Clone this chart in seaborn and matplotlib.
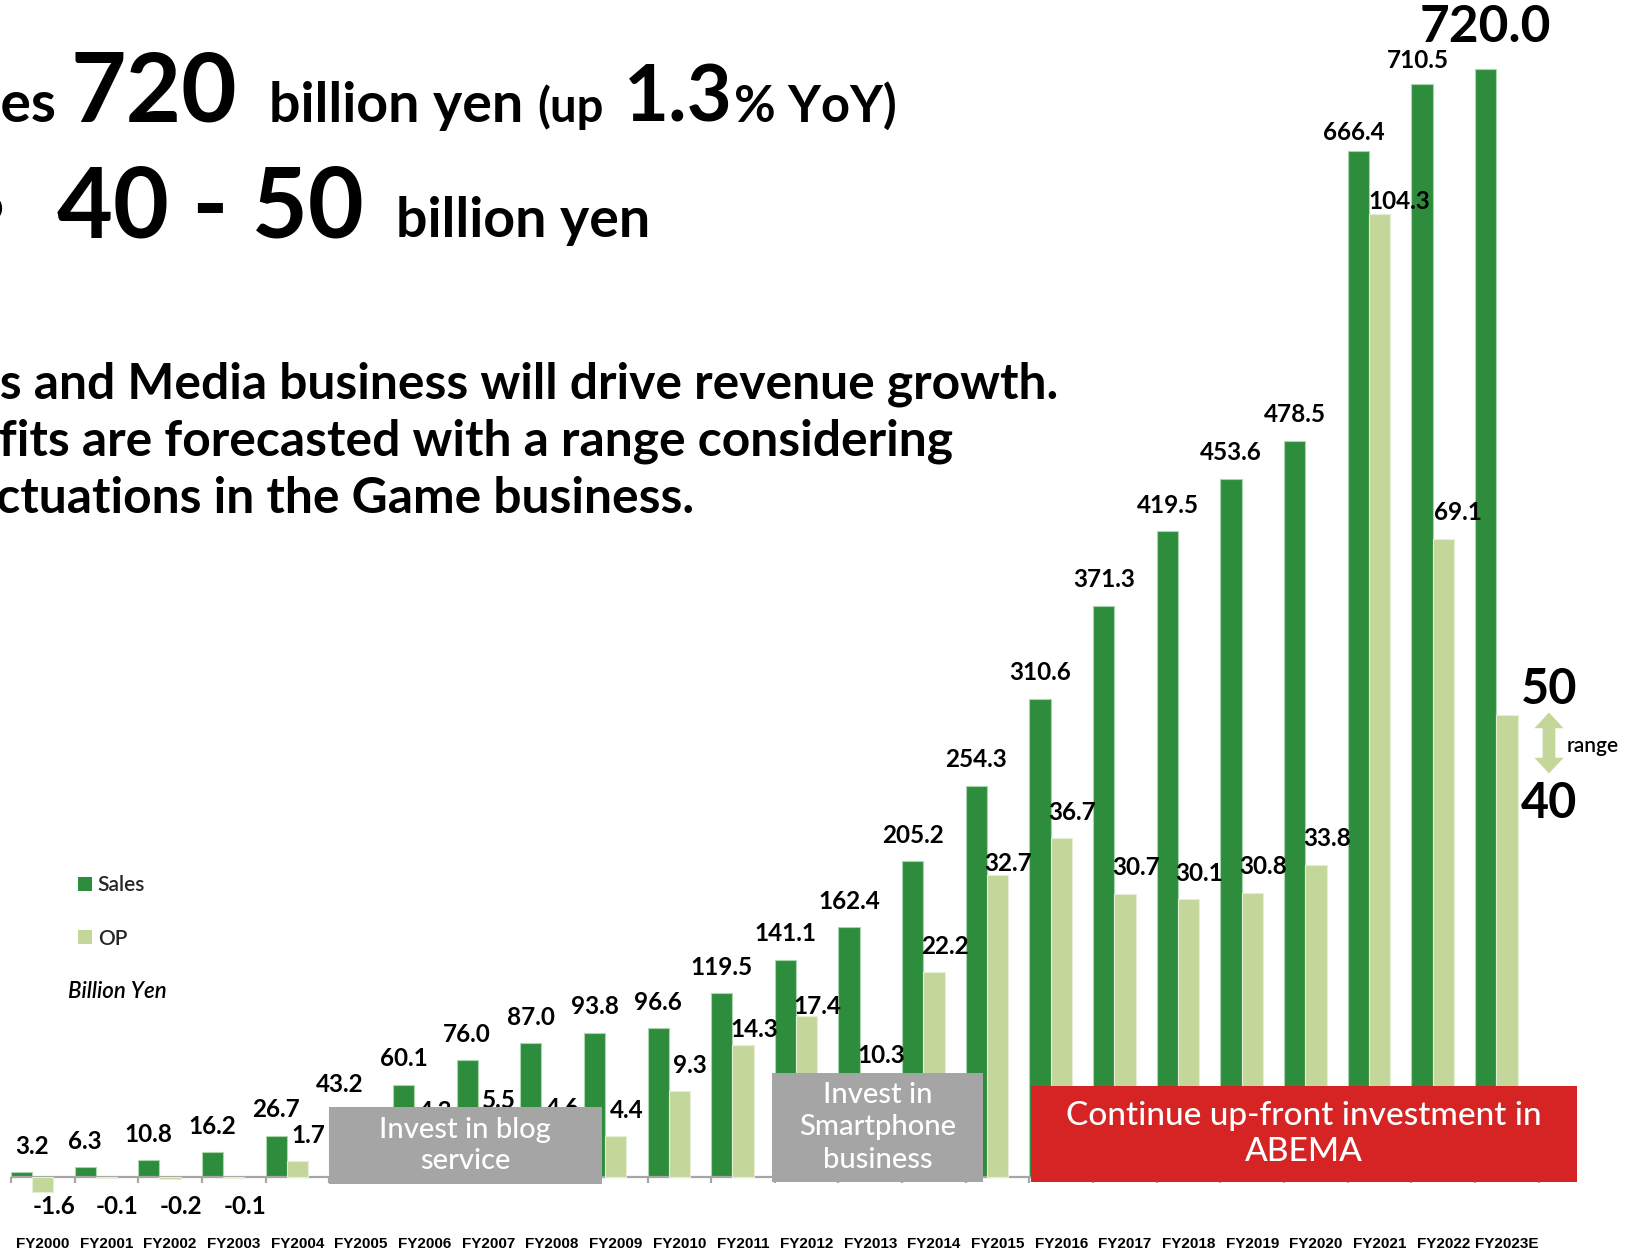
import numpy as np
import pandas as pd
import matplotlib
matplotlib.use("Agg")
import matplotlib.pyplot as plt
import seaborn as sns
from matplotlib.patches import Rectangle, Patch, FancyArrow

# ---------------- data (billion yen) ----------------
years = ["FY2000", "FY2001", "FY2002", "FY2003", "FY2004", "FY2005", "FY2006",
         "FY2007", "FY2008", "FY2009", "FY2010", "FY2011", "FY2012", "FY2013",
         "FY2014", "FY2015", "FY2016", "FY2017", "FY2018", "FY2019", "FY2020",
         "FY2021", "FY2022", "FY2023E"]
sales = [3.2, 6.3, 10.8, 16.2, 26.7, 43.2, 60.1, 76.0, 87.0, 93.8, 96.6, 119.5,
         141.1, 162.4, 205.2, 254.3, 310.6, 371.3, 419.5, 453.6, 478.5, 666.4,
         710.5, 720.0]
op = [-1.6, -0.1, -0.2, -0.1, 1.7, 3.9, 4.3, 5.5, 4.6, 4.4, 9.3, 14.3, 17.4,
      10.3, 22.2, 32.7, 36.7, 30.7, 30.1, 30.8, 33.8, 104.3, 69.1, 50.0]
op_forecast_range = (40, 50)

GREEN = "#2e8c3d"
LIGHT = "#c4d79b"
GREY_BOX = "#a5a5a5"
RED_BOX = "#d62323"
AXIS_GREY = "#a6a6a6"

W, H = 1633, 1253
DPI = 100

sns.set_theme(style="white")
plt.rcParams["font.family"] = ["Lato", "DejaVu Sans"]

fig = plt.figure(figsize=(W / DPI, H / DPI), dpi=DPI)
fig.patch.set_facecolor("white")


def fx(x):
    return x / W


def fy(y):
    return 1 - y / H


# axes fill the canvas; sales scale on the left, OP scale (x6) on the twin
base_px = 1177.0
sales_px = 1.539
ax_bottom_px = 1235.0
ax = fig.add_axes([0, fy(ax_bottom_px), 1, ax_bottom_px / H])
ax.set_facecolor("none")
s_lo = -(ax_bottom_px - base_px) / sales_px
s_hi = base_px / sales_px
ax2 = ax.twinx()
ratio = 6.0

df = pd.DataFrame({"year": years, "sales": sales, "op": op})
df["pos"] = np.arange(len(df))
df["sales_pos"] = df["pos"] - 1 / 3
df["op_pos"] = df["pos"].astype(float)

sns.barplot(data=df, x="sales_pos", y="sales", native_scale=True, orient="x",
            width=1 / 3, color=GREEN, saturation=1, errorbar=None,
            edgecolor="#a9d6ae", linewidth=0.8, ax=ax)
sns.barplot(data=df, x="op_pos", y="op", native_scale=True, orient="x",
            width=1 / 3, color=LIGHT, saturation=1, errorbar=None,
            edgecolor="#e6eed4", linewidth=0.8, ax=ax2)

n = len(years)
for a in (ax, ax2):
    a.set_xlim(-0.671, 24.98)
    a.set_xlabel("")
    a.set_ylabel("")
    a.set_yticks([])
    for sp in a.spines.values():
        sp.set_visible(False)
    a.grid(False)
ax.set_ylim(s_lo, s_hi)
ax2.set_ylim(s_lo / ratio, s_hi / ratio)

# category axis: baseline with ticks on the category boundaries
ax.plot([-0.5, n - 0.5], [0, 0], color=AXIS_GREY, lw=1.6, zorder=1,
        solid_capstyle="butt")
tick_len = 6 / sales_px
ax.vlines(np.arange(n + 1) - 0.5, -tick_len, 0, color=AXIS_GREY, lw=1.6, zorder=1)

ax.set_xticks(np.arange(n))
ax.set_xticklabels(years, fontfamily=["Liberation Sans", "DejaVu Sans"],
                   fontweight="bold", fontsize=11, color="black")
ax.tick_params(axis="x", length=0, pad=1.5)
ax2.tick_params(axis="x", length=0, labelbottom=False)

PT = 72 / DPI  # points per pixel
LABEL = dict(fontsize=17.5, fontweight="bold", color="black")

# sales value labels
sales_dx = {0: 0.16, 21: -0.07, 22: -0.06}
sales_dy = {21: 19, 22: 23}
for i, v in enumerate(sales):
    x = i - 1 / 3 + sales_dx.get(i, 0)
    if i == n - 1:
        ax.annotate(f"{v:.1f}", xy=(x, v), xytext=(0, 41 * PT),
                    textcoords="offset points", ha="center", va="center",
                    fontsize=37, fontweight="bold", color="black")
    else:
        ax.annotate(f"{v:.1f}", xy=(x, v), xytext=(0, sales_dy.get(i, 26) * PT),
                    textcoords="offset points", ha="center", va="center", **LABEL)

# OP value labels
op_dx = {21: 0.31, 22: 0.23}
op_dy = {21: 12.5, 15: 11.5, 12: 9.4, 11: 15.6}
for i, v in enumerate(op):
    if i in (5, n - 1):
        continue
    x = i + op_dx.get(i, 0.17)
    if v < 0:
        ax2.annotate(f"{v:.1f}", xy=(x, 0), xytext=(0, -29 * PT),
                     textcoords="offset points", ha="center", va="center", **LABEL)
    else:
        ax2.annotate(f"{v:.1f}", xy=(x, v), xytext=(0, op_dy.get(i, 26) * PT),
                     textcoords="offset points", ha="center", va="center", **LABEL)

# forecast range for FY2023E operating profit
lo, hi = op_forecast_range
rx = n - 1 + 0.66
ax2.annotate(f"{hi}", xy=(rx, hi), xytext=(0, 26 * PT), textcoords="offset points",
             ha="center", va="center", fontsize=35, fontweight="bold", color="black")
ax2.annotate(f"{lo}", xy=(rx, lo), xytext=(0, 4.6 * PT), textcoords="offset points",
             ha="center", va="center", fontsize=35, fontweight="bold", color="black")
mid = 47.0
half = 3.3
for d in (half, -half):
    ax2.add_patch(FancyArrow(rx, mid, 0, d, width=0.2, head_width=0.46,
                             head_length=1.7, length_includes_head=True,
                             color=LIGHT, lw=0))
ax2.text(n - 1 + 1.35, mid - 0.35, "range", ha="center", va="center",
         fontsize=15, fontweight="semibold", color="black")

# legend
handles = [Patch(facecolor=GREEN, edgecolor="none"),
           Patch(facecolor=LIGHT, edgecolor="none")]
leg = ax.legend(handles, ["Sales", "OP"], loc="upper left",
                bbox_to_anchor=(fx(78), fy(875)), bbox_transform=fig.transFigure,
                frameon=False, handlelength=0.65, handleheight=0.65,
                handletextpad=0.3, labelspacing=1.62, borderpad=0,
                borderaxespad=0, prop={"size": 15, "weight": "semibold"})
fig.text(fx(68), fy(991), "Billion Yen", ha="left", va="center", fontsize=16,
         fontstyle="italic", fontweight="semibold", color="black")


# annotation boxes over the bars
def box(x0, x1, y0, y1, color, text, size, spacing):
    r = Rectangle((x0, y0), x1 - x0, y1 - y0, transform=ax.transData,
                  facecolor=color, edgecolor="none", zorder=20)
    fig.add_artist(r)
    t = fig.text(0, 0, text, transform=ax.transData, ha="center", va="center",
                 fontsize=size, color="white", fontweight="medium",
                 linespacing=spacing, zorder=21)
    t.set_position(((x0 + x1) / 2, (y0 + y1) / 2))


box(4.50, 8.78, -4.5, 45.5, GREY_BOX, "Invest in blog\nservice", 21, 1.28)
box(11.45, 14.77, -3.2, 67.6, GREY_BOX, "Invest in\nSmartphone\nbusiness", 21, 1.3)
box(15.52, 24.10, -3.2, 59.1, RED_BOX, "Continue up-front investment in\nABEMA", 24, 1.24)

# headline text, partly running off the left edge
renderer = fig.canvas.get_renderer()


def text_width(s, **kw):
    t = fig.text(0, 0, s, **kw)
    w = t.get_window_extent(renderer).width
    t.remove()
    return w


def cut_text(prefix, rest, x_vis, y_base, **kw):
    w = text_width(prefix, **kw)
    fig.text(fx(x_vis - w), fy(y_base), prefix + rest, ha="left", va="baseline", **kw)


bold = dict(fontweight="bold", color="black")
cut_text("Sal", "es", 1, 122, fontsize=41, **bold)
fig.text(fx(71), fy(122), "720", ha="left", va="baseline", fontsize=69, **bold)
fig.text(fx(269), fy(122), "billion yen", ha="left", va="baseline", fontsize=40, **bold)
fig.text(fx(537), fy(122), "(up", ha="left", va="baseline", fontsize=34, **bold)
fig.text(fx(624), fy(122), "1.3", ha="left", va="baseline", fontsize=56, **bold)
fig.text(fx(734), fy(122), "% YoY)", ha="left", va="baseline", fontsize=36.5, **bold)

fig.text(fx(4), fy(237), "OP", ha="right", va="baseline", fontsize=42, **bold)
fig.text(fx(57), fy(237), "40 - 50", ha="left", va="baseline", fontsize=69.5, **bold)
fig.text(fx(396), fy(237), "billion yen", ha="left", va="baseline", fontsize=40, **bold)

para = dict(fontsize=35.8, fontweight="bold", color="black")
cut_text("Ad", "s and Media business will drive revenue growth.", 0, 399, **para)
cut_text("Pro", "fits are forecasted with a range considering", -1, 456, **para)
cut_text("flu", "ctuations in the Game business.", -4, 513, **para)

fig.savefig("out.png", dpi=DPI, facecolor="white")
